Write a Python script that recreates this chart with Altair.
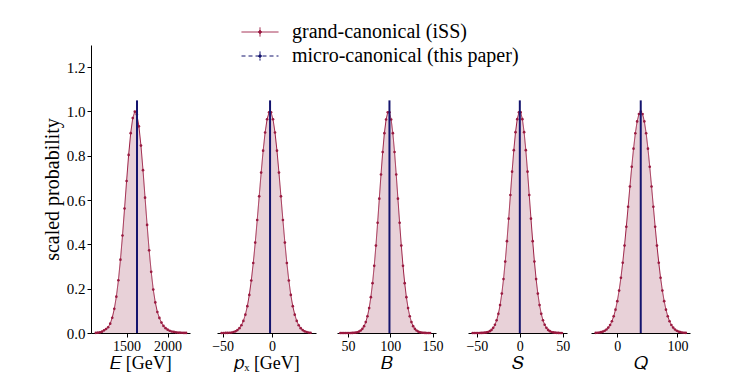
import altair as alt
import pandas as pd

series_names = ["grand-canonical (iSS)", "micro-canonical (this paper)"]
series_colors = ["#9a1a40", "#14146e"]
fill_color = "#8b1a3a"

# Energy panel
E_x = [1125, 1150, 1175, 1200, 1225, 1250, 1275, 1300, 1325, 1350, 1375, 1400, 1425, 1450, 1475,
       1500, 1525, 1550, 1575, 1600, 1625, 1650, 1675, 1700, 1725, 1750, 1775, 1800, 1825, 1850,
       1875, 1900, 1925, 1950, 1975, 2000, 2025, 2050, 2075, 2100, 2125, 2150, 2175, 2200, 2225]
E_y = [0.0008, 0.0015, 0.003, 0.006, 0.012, 0.018, 0.026, 0.042, 0.069, 0.109, 0.164, 0.238, 0.331, 0.440, 0.562,
       0.686, 0.804, 0.902, 0.970, 0.999, 0.986, 0.933, 0.846, 0.735, 0.611, 0.488, 0.373, 0.276, 0.196, 0.138,
       0.095, 0.068, 0.047, 0.032, 0.022, 0.015, 0.010, 0.007, 0.005, 0.003, 0.002, 0.0015, 0.001, 0.0005, 0.0003]

# p_x panel
P_x = [-51, -49, -47, -45, -43, -41, -39, -37, -35, -33, -31, -29, -27, -25, -23, -21, -19, -17, -15, -13,
       -11, -9, -7, -5, -3, -1, 1, 3, 5, 7, 9, 11, 13, 15, 17, 19, 21, 23, 25, 27, 29, 31, 33, 35, 37, 39]
P_y = [0.0001, 0.0002, 0.0003, 0.0006, 0.0012, 0.0023, 0.0043, 0.0076, 0.013, 0.0217, 0.035, 0.0547, 0.0828,
       0.121, 0.172, 0.237, 0.316, 0.408, 0.510, 0.617, 0.724, 0.823, 0.905, 0.965, 0.996,
       0.996, 0.965, 0.905, 0.823, 0.724, 0.617, 0.510, 0.408, 0.316, 0.237, 0.172, 0.121, 0.0828, 0.0547,
       0.035, 0.0217, 0.013, 0.0076, 0.0043, 0.0023, 0.0012]

# Baryon number panel
B_x = [41, 43, 45, 47, 49, 51, 53, 55, 57, 59, 61, 63, 65, 67, 69, 71, 73, 75, 77, 79, 81, 83, 85, 87, 89,
       91, 93, 95, 97, 99, 101, 103, 105, 107, 109, 111, 113, 115, 117, 119, 121, 123, 125, 127, 129, 131,
       133, 135, 137, 139, 141, 143, 145, 147]
B_y = [0.0, 0.0, 0.0, 0.00002, 0.00005, 0.0001, 0.00023, 0.00048, 0.00096, 0.0019, 0.0035, 0.0063, 0.0111,
       0.0189, 0.031, 0.0492, 0.0756, 0.1124, 0.1617, 0.225, 0.303, 0.3946, 0.4975, 0.6065, 0.7155, 0.817,
       0.902, 0.9635, 0.996,
       0.996, 0.9635, 0.902, 0.817, 0.7155, 0.6065, 0.4975, 0.3946, 0.303, 0.225, 0.1617, 0.1124, 0.0756,
       0.0492, 0.031, 0.0189, 0.0111, 0.0063, 0.0035, 0.0019, 0.00096, 0.00048, 0.00023, 0.0001, 0.00005]

# Strangeness panel
S_x = [-55, -53, -51, -49, -47, -45, -43, -41, -39, -37, -35, -33, -31, -29, -27, -25, -23, -21, -19, -17,
       -15, -13, -11, -9, -7, -5, -3, -1, 1, 3, 5, 7, 9, 11, 13, 15, 17, 19, 21, 23, 25, 27, 29, 31, 33, 35,
       37, 39, 41, 43, 45, 47, 49]
S_y = [0.00001, 0.00002, 0.00004, 0.00008, 0.00017, 0.00036, 0.0007, 0.0014, 0.0026, 0.0047, 0.0083, 0.0141,
       0.0232, 0.0371, 0.0576, 0.0866, 0.126, 0.1778, 0.2433, 0.3225, 0.4144, 0.516, 0.6227, 0.7282, 0.8254,
       0.9067, 0.9654, 0.996,
       0.996, 0.9654, 0.9067, 0.8254, 0.7282, 0.6227, 0.516, 0.4144, 0.3225, 0.2433, 0.1778, 0.126, 0.0866,
       0.0576, 0.0371, 0.0232, 0.0141, 0.0083, 0.0047, 0.0026, 0.0014, 0.0007, 0.00036, 0.00017, 0.00008]

# Charge panel
Q_x = [-36, -33, -30, -27, -24, -21, -18, -15, -12, -9, -6, -3, 0, 3, 6, 9, 12, 15, 18, 21, 24, 27, 30, 33,
       36, 39, 42, 45, 48, 51, 54, 57, 60, 63, 66, 69, 72, 75, 78, 81, 84, 87, 90, 93, 96, 99, 102, 105, 108,
       111, 114]
Q_y = [0.00077, 0.0013, 0.0023, 0.0039, 0.0063, 0.0101, 0.0159, 0.0243, 0.0362, 0.0529, 0.0756, 0.1054,
       0.1437, 0.1915, 0.2493, 0.3173, 0.3946, 0.4797, 0.5698, 0.6615, 0.7505, 0.8322, 0.9018, 0.9551, 0.9886,
       1.0,
       0.9886, 0.9551, 0.9018, 0.8322, 0.7505, 0.6615, 0.5698, 0.4797, 0.3946, 0.3173, 0.2493, 0.1915, 0.1437,
       0.1054, 0.0756, 0.0529, 0.0362, 0.0243, 0.0159, 0.0101, 0.0063, 0.0039, 0.0023, 0.0013, 0.00077]

# micro-canonical (fixed) values and their scaled peak
micro_x = [1627, -2, 99, 0, 39]
micro_peak = [1.05, 1.05, 1.05, 1.05, 1.05]

x_domains = [[1066, 2273], [-55.7, 44.5], [37, 154], [-60.4, 55], [-43.8, 121]]
x_ticks = [[1500, 2000], [-50, 0], [50, 100, 150], [-50, 0, 50], [0, 100]]
x_titles = ["𝐸 [GeV]", "𝑝ₓ [GeV]", "𝐵", "𝑆", "𝑄"]
y_ticks = [0.0, 0.2, 0.4, 0.6, 0.8, 1.0, 1.2]

panels_x = [E_x, P_x, B_x, S_x, Q_x]
panels_y = [E_y, P_y, B_y, S_y, Q_y]

FONT = "Liberation Serif"
legend_path = ("M-2,0H2M0,-0.5V0.5"
               "M0.15,0A0.15,0.15,0,1,1,-0.15,0A0.15,0.15,0,1,1,0.15,0Z")
leg = alt.Legend(title=None, orient="none", legendX=159, legendY=-23,
                 symbolType=legend_path, symbolSize=342, symbolStrokeWidth=1,
                 labelFont=FONT, labelFontSize=20, labelColor="black", labelLimit=0,
                 labelOffset=22, rowPadding=4, padding=0)
col_scale = alt.Scale(domain=series_names, range=series_colors)
dash_scale = alt.Scale(domain=series_names, range=[[1, 0], [4, 3]])


def panel(i):
    df = pd.DataFrame({"x": panels_x[i], "y": panels_y[i], "series": series_names[0]})
    rdf = pd.DataFrame({"x": [micro_x[i]], "y0": [0.0], "y1": [micro_peak[i]],
                        "series": [series_names[1]]})
    xs = alt.Scale(domain=x_domains[i], nice=False, zero=False)
    xax = alt.Axis(values=x_ticks[i], title=x_titles[i], format="d",
                   labelFont=FONT, titleFont=FONT, labelFontSize=14, titleFontSize=18,
                   labelPadding=2, titlePadding=1)
    if i == 0:
        yax = alt.Axis(values=y_ticks, format=".1f", title="scaled probability",
                       labelFont=FONT, titleFont=FONT, labelFontSize=15, titleFontSize=20,
                       titlePadding=4)
    else:
        yax = None
    ys = alt.Scale(domain=[0, 1.3], nice=False)
    xenc = alt.X("x:Q", scale=xs, axis=xax)
    yenc = alt.Y("y:Q", scale=ys, axis=yax)
    base = alt.Chart(df)
    area = base.mark_area(color=fill_color, opacity=0.2).encode(x=xenc, y=yenc)
    line = base.mark_line(strokeWidth=1).encode(
        x=xenc, y=yenc,
        stroke=alt.Stroke("series:N", scale=col_scale, legend=leg),
        strokeDash=alt.StrokeDash("series:N", scale=dash_scale, legend=leg))
    pts = base.mark_circle(size=7, opacity=1).encode(
        x=xenc, y=yenc,
        fill=alt.Fill("series:N", scale=col_scale, legend=leg))
    rule = alt.Chart(rdf).mark_rule(strokeWidth=2).encode(
        x=alt.X("x:Q", scale=xs, axis=xax),
        y=alt.Y("y0:Q", scale=ys, axis=yax),
        y2="y1:Q",
        stroke=alt.Stroke("series:N", scale=col_scale, legend=leg))
    return alt.layer(area, line, pts, rule).properties(width=99, height=288)


chart = alt.hconcat(*[panel(i) for i in range(5)], spacing=21).resolve_scale(
    x="independent", stroke="shared", fill="shared", strokeDash="shared"
).properties(
    padding={"left": 34, "top": 14, "right": 5, "bottom": 0}
).configure_view(stroke=None).configure_axis(
    grid=False, domainColor="black", tickColor="black", labelColor="black",
    titleColor="black", labelFont=FONT, titleFont=FONT,
    titleFontWeight="normal", tickSize=4, domainWidth=1, tickWidth=1
)

chart.save("out.html", embed_options={"renderer": "svg", "actions": False})
